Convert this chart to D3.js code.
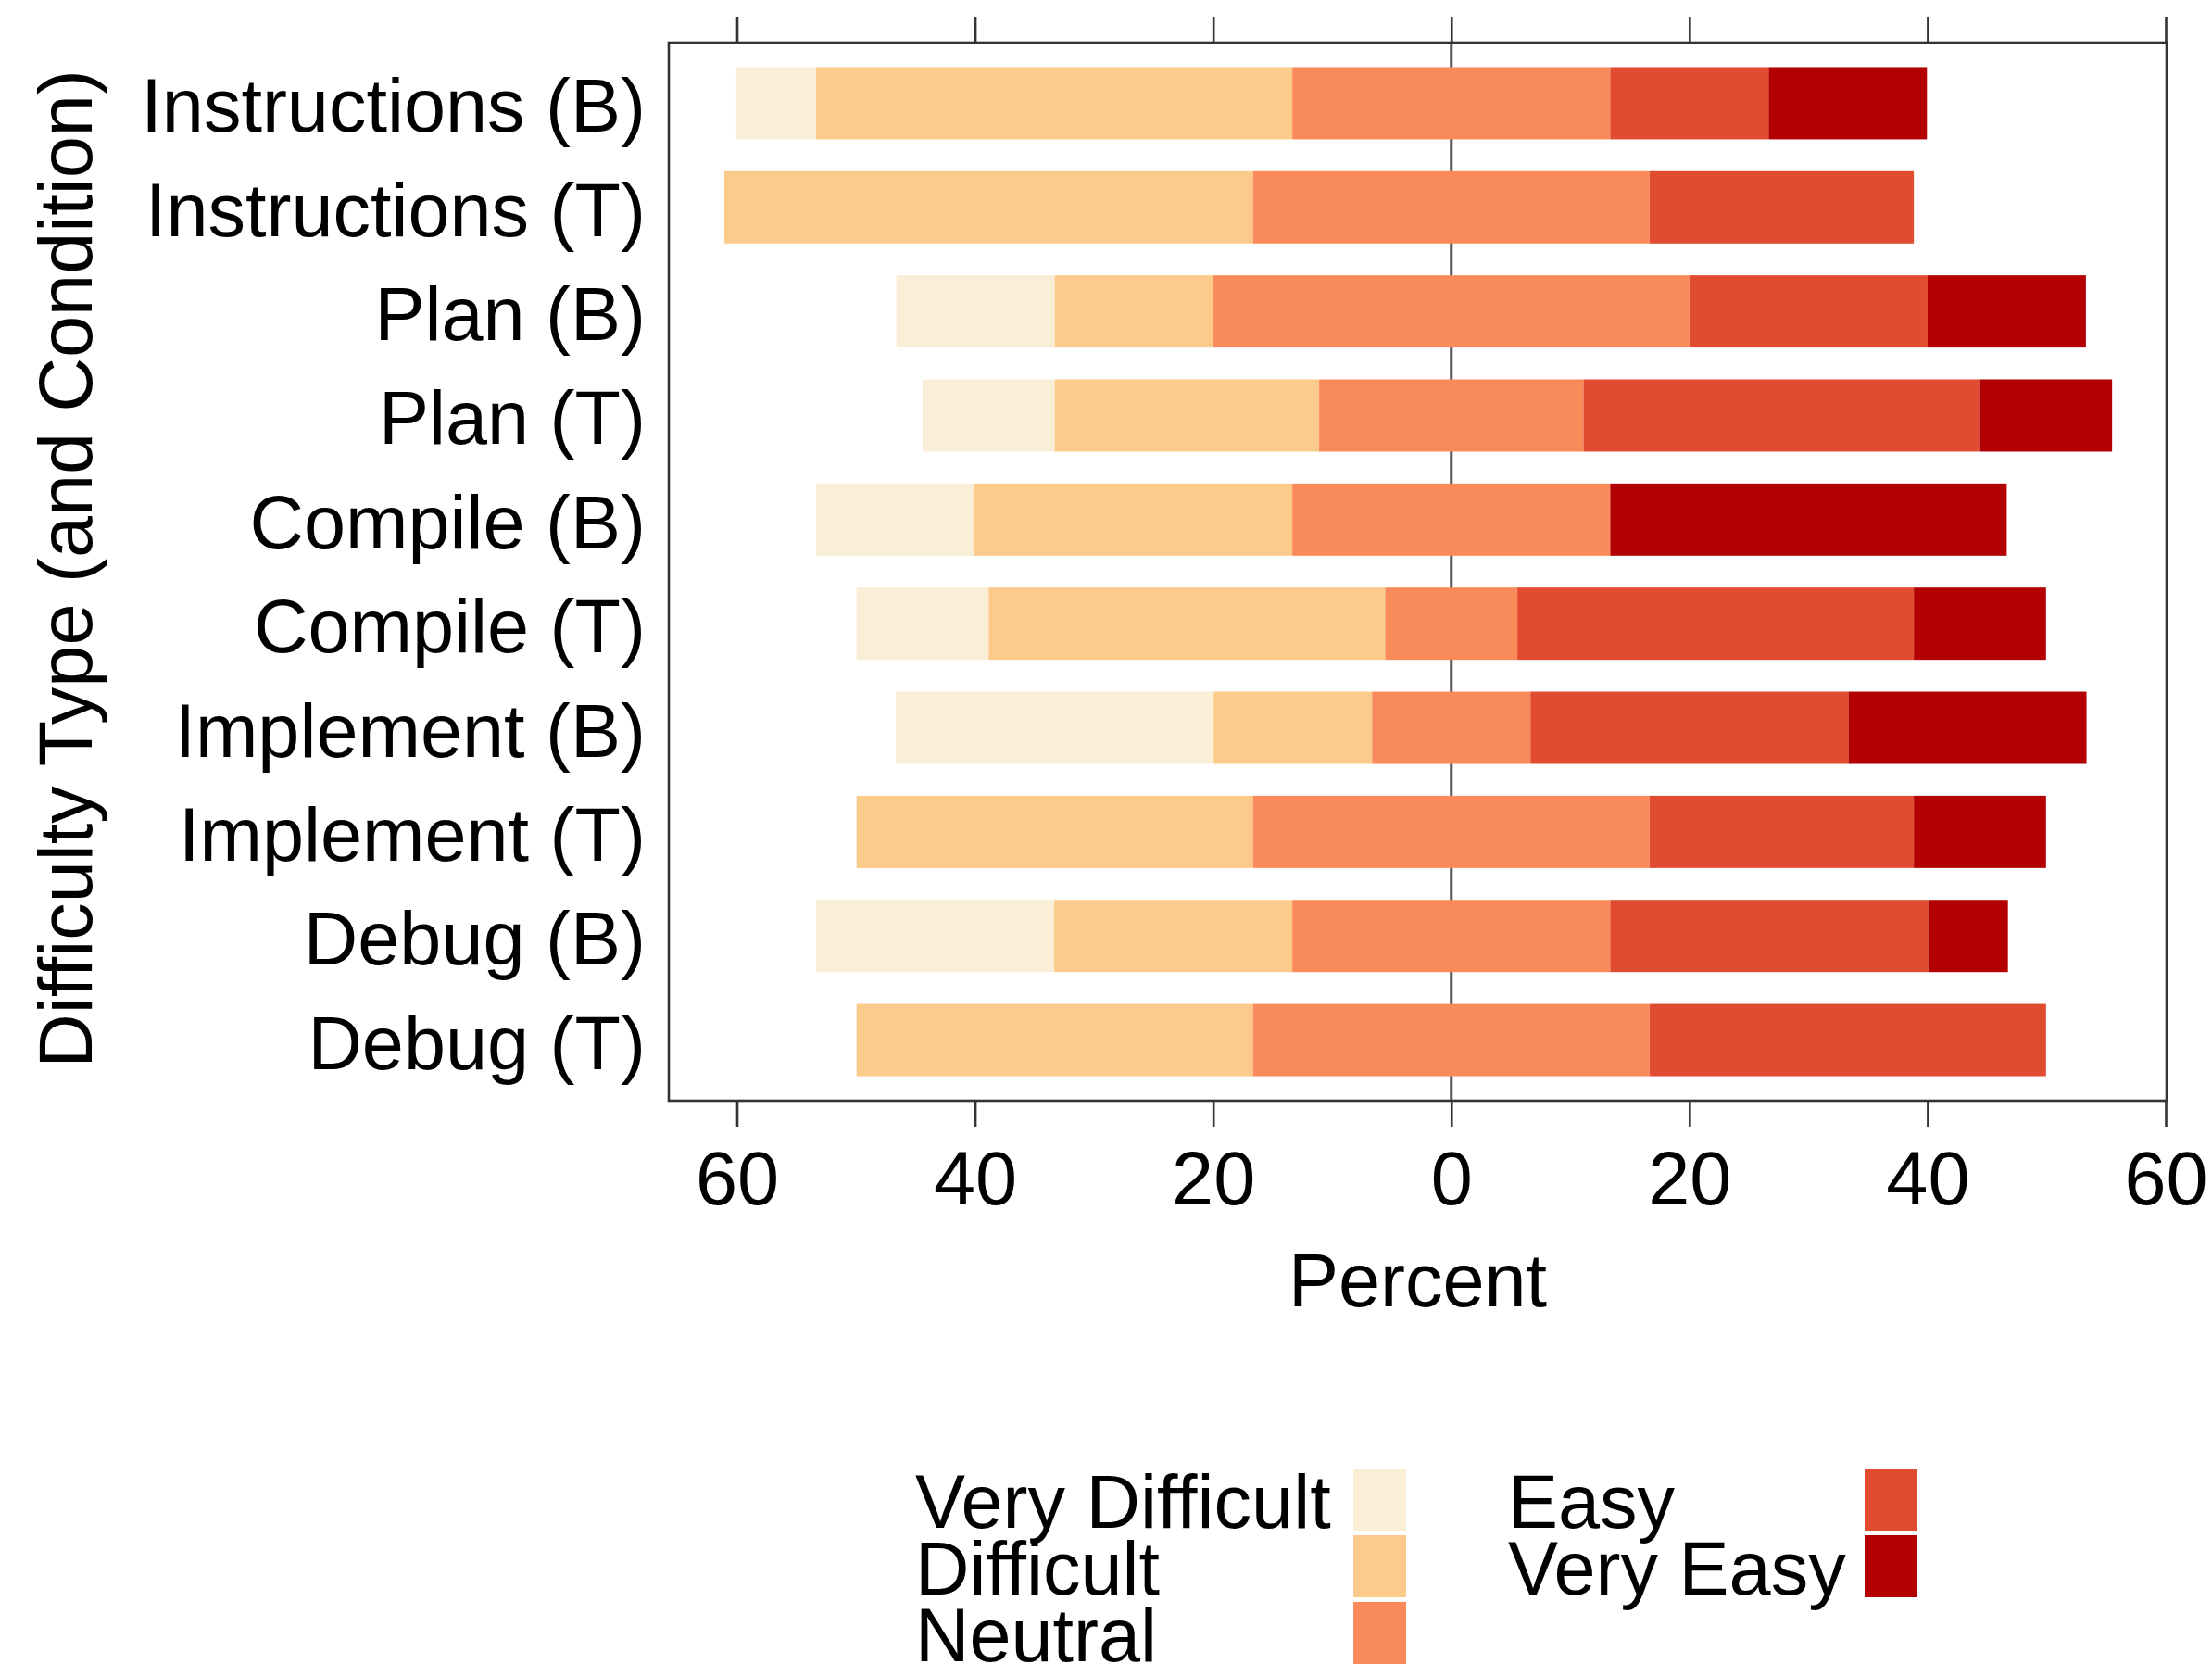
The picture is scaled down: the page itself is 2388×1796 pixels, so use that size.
<!DOCTYPE html>
<html>
<head>
<meta charset="utf-8">
<script src="https://cdn.jsdelivr.net/npm/d3@7"></script>
<style>
  html, body { margin: 0; padding: 0; background: #ffffff; }
  svg { display: block; }
  text { font-family: "Liberation Sans", Arial, Helvetica, sans-serif; fill: #000; }
</style>
</head>
<body>
<svg id="chart" width="2388" height="1796"></svg>
<script>
// ---- Data (percent of respondents) ----
const categories = [
  "Instructions (B)", "Instructions (T)", "Plan (B)", "Plan (T)",
  "Compile (B)", "Compile (T)", "Implement (B)", "Implement (T)",
  "Debug (B)", "Debug (T)"
];
const levels = ["Very Difficult", "Difficult", "Neutral", "Easy", "Very Easy"];
const veryDifficult = [6.7, 0, 13.3, 11.1, 13.3, 11.1, 26.7, 0, 20.0, 0];
const difficult     = [40.0, 44.4, 13.3, 22.2, 26.7, 33.3, 13.3, 33.3, 20.0, 33.3];
const neutral       = [26.7, 33.3, 40.0, 22.2, 26.7, 11.1, 13.3, 33.3, 26.7, 33.3];
const easy          = [13.3, 22.2, 20.0, 33.3, 0, 33.3, 26.7, 22.2, 26.7, 33.3];
const veryEasy      = [13.3, 0, 13.3, 11.1, 33.3, 11.1, 20.0, 11.1, 6.7, 0];
const xTicks = [-60, -40, -20, 0, 20, 40, 60];
const xTickLabels = ["60", "40", "20", "0", "20", "40", "60"];
const colors = ["#fbeed6", "#fcca8a", "#f98b5a", "#e14b30", "#b30000"];

const series = [veryDifficult, difficult, neutral, easy, veryEasy];

// ---- Layout ----
const svg = d3.select("#chart");
const box = { left: 722, right: 2339, top: 46, bottom: 1188 };
const FS = 81;

const x = d3.scaleLinear().domain([-60, 60]).range([795.5, 2338]);
const y = d3.scaleBand().domain(categories)
  .range([box.top, box.bottom]).paddingInner(0.306).paddingOuter(0.2355);

// zero reference line (behind bars)
svg.append("line")
  .attr("x1", x(0)).attr("x2", x(0))
  .attr("y1", box.top).attr("y2", box.bottom)
  .attr("stroke", "#555").attr("stroke-width", 3);

// stacked diverging bars
const rows = categories.map((c, i) => {
  const vals = series.map(s => s[i]);
  let start = -(vals[0] + vals[1] + vals[2] / 2);
  const segs = vals.map((v, k) => {
    const seg = { cat: c, k, x0: start, x1: start + v };
    start += v;
    return seg;
  }).filter(s => s.x1 - s.x0 > 0);
  return segs;
});

svg.append("g").selectAll("g")
  .data(rows).join("g")
  .selectAll("rect")
  .data(d => d).join("rect")
  .attr("x", d => x(d.x0))
  .attr("width", d => x(d.x1) - x(d.x0))
  .attr("y", d => y(d.cat))
  .attr("height", y.bandwidth())
  .attr("fill", d => colors[d.k]);

// box
svg.append("rect")
  .attr("x", box.left).attr("y", box.top)
  .attr("width", box.right - box.left).attr("height", box.bottom - box.top)
  .attr("fill", "none").attr("stroke", "#333").attr("stroke-width", 2.6);

// top & bottom axes (ticks outward)
const axTop = d3.axisTop(x).tickValues(xTicks).tickSize(28).tickFormat("");
svg.append("g").attr("transform", `translate(0,${box.top})`).call(axTop)
  .call(g => g.select(".domain").remove())
  .call(g => g.selectAll("line").attr("stroke", "#333").attr("stroke-width", 2.6));

const axBottom = d3.axisBottom(x).tickValues(xTicks).tickSize(28)
  .tickFormat((d, i) => xTickLabels[i]);
svg.append("g").attr("transform", `translate(0,${box.bottom})`).call(axBottom)
  .call(g => g.select(".domain").remove())
  .call(g => g.selectAll("line").attr("stroke", "#333").attr("stroke-width", 2.6))
  .call(g => g.selectAll("text")
    .attr("y", null).attr("dy", null)
    .attr("transform", `translate(0,${1300 - box.bottom})`)
    .style("font-size", FS + "px")
    .style("font-family", '"Liberation Sans", Arial, sans-serif')
    .attr("fill", "#000"));

// y category labels
const axLeft = d3.axisLeft(y).tickSize(0).tickPadding(0);
svg.append("g").attr("transform", `translate(697,0)`).call(axLeft)
  .call(g => g.select(".domain").remove())
  .call(g => g.selectAll("text")
    .attr("x", 0).attr("dy", null)
    .attr("y", 31)
    .style("font-size", FS + "px")
    .style("font-family", '"Liberation Sans", Arial, sans-serif')
    .attr("fill", "#000"));

// axis titles
svg.append("text")
  .attr("x", (box.left + box.right) / 2).attr("y", 1410)
  .attr("text-anchor", "middle")
  .style("font-size", FS + "px")
  .text("Percent");

svg.append("text")
  .attr("transform", `translate(99,614) rotate(-90)`)
  .attr("text-anchor", "middle")
  .style("font-size", FS + "px")
  .text("Difficulty Type (and Condition)");

// legend
const legendCols = [
  { items: [0, 1, 2], textX: 988, rectX: 1461 },
  { items: [3, 4], textX: 1628, rectX: 2013 }
];
const legTop = 1585, legRowH = 72, legRectH = 67, legRectW = 57;
legendCols.forEach(col => {
  col.items.forEach((k, r) => {
    svg.append("rect")
      .attr("x", col.rectX).attr("y", legTop + r * legRowH)
      .attr("width", legRectW).attr("height", legRectH)
      .attr("fill", colors[k]);
    svg.append("text")
      .attr("x", col.textX).attr("y", legTop + r * legRowH + 64)
      .style("font-size", FS + "px")
      .text(levels[k]);
  });
});
</script>
</body>
</html>
